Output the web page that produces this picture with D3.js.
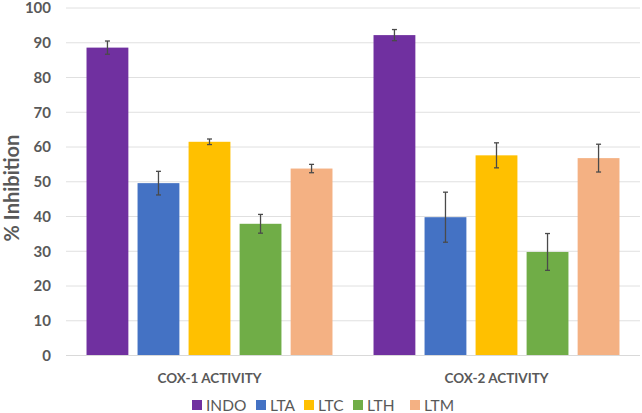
<!DOCTYPE html>
<html><head><meta charset="utf-8">
<script src="https://cdn.jsdelivr.net/npm/d3@7"></script>
<style>body{margin:0;background:#fff;}svg{display:block;font-family:Lato,"Open Sans",sans-serif;}</style>
</head><body>
<svg id="c" width="642" height="413"></svg>
<script>
const categories = ["COX-1 ACTIVITY", "COX-2 ACTIVITY"];
const seriesNames = ["INDO", "LTA", "LTC", "LTH", "LTM"];
const seriesColors = ["#7030A0", "#4472C4", "#FFC000", "#70AD47", "#F4B183"];
const indoValues = [88.6, 92.2];
const ltaValues = [49.6, 39.8];
const ltcValues = [61.5, 57.6];
const lthValues = [37.9, 29.8];
const ltmValues = [53.8, 56.8];
const indoErr = [1.9, 1.6];
const ltaErr = [3.4, 7.2];
const ltcErr = [0.8, 3.6];
const lthErr = [2.7, 5.3];
const ltmErr = [1.2, 4.0];
const yTicks = [0, 10, 20, 30, 40, 50, 60, 70, 80, 90, 100];
const yTitle = "% Inhibition";

const values = [indoValues, ltaValues, ltcValues, lthValues, ltmValues];
const errs = [indoErr, ltaErr, ltcErr, lthErr, ltmErr];

const svg = d3.select("#c");
const mLeft = 66, mRight = 640, mTop = 8, mBottom = 355.5;
const textCol = "#595959";
const ff = "Lato, 'Open Sans', sans-serif";

const y = d3.scaleLinear().domain([0, 100]).range([mBottom, mTop]);
const x0 = d3.scaleBand().domain(categories).range([mLeft, mRight]).paddingInner(0.143).paddingOuter(0.0715);
const x1 = d3.scaleBand().domain(seriesNames).range([0, x0.bandwidth()]).paddingInner(0.18).paddingOuter(0);

// gridlines
svg.append("g").selectAll("line").data(yTicks.filter(d => d > 0)).join("line")
  .attr("x1", mLeft).attr("x2", mRight)
  .attr("y1", d => y(d)).attr("y2", d => y(d))
  .attr("stroke", "#E0E0E0").attr("stroke-width", 1);

// y axis labels
const yAxis = d3.axisLeft(y).tickValues(yTicks).tickSize(0).tickPadding(0);
const ya = svg.append("g").attr("transform", `translate(${mLeft - 15},0)`).call(yAxis);
ya.select(".domain").remove();
ya.selectAll("text").attr("font-size", 15).attr("font-weight", "bold").attr("fill", textCol)
  .attr("font-family", ff);

// bars
const groups = svg.append("g").selectAll("g").data(categories).join("g")
  .attr("transform", d => `translate(${x0(d)},0)`);
groups.each(function(cat, ci) {
  const g = d3.select(this);
  seriesNames.forEach((s, si) => {
    const v = values[si][ci], e = errs[si][ci];
    const bx = x1(s), bw = x1.bandwidth();
    g.append("rect").attr("x", bx).attr("y", y(v)).attr("width", bw).attr("height", y(0) - y(v))
      .attr("fill", seriesColors[si]);
    const cx = bx + bw / 2;
    g.append("line").attr("x1", cx).attr("x2", cx).attr("y1", y(v + e)).attr("y2", y(v - e))
      .attr("stroke", "#4a4a4a").attr("stroke-width", 1.3);
    [v + e, v - e].forEach(t => {
      g.append("line").attr("x1", cx - 2.5).attr("x2", cx + 2.5).attr("y1", y(t)).attr("y2", y(t))
        .attr("stroke", "#4a4a4a").attr("stroke-width", 1.3);
    });
  });
});

// baseline
svg.append("line").attr("x1", mLeft).attr("x2", mRight).attr("y1", y(0)).attr("y2", y(0))
  .attr("stroke", "#D9D9D9").attr("stroke-width", 1);

// category labels
const xAxis = d3.axisBottom(x0).tickSize(0).tickPadding(0);
const xa = svg.append("g").attr("transform", `translate(0,${mBottom + 18})`).call(xAxis);
xa.select(".domain").remove();
xa.selectAll("text").attr("font-size", 13.5).attr("font-weight", "bold").attr("fill", textCol)
  .attr("font-family", ff);

// y title
svg.append("text").attr("transform", `translate(19,188) rotate(-90)`)
  .attr("text-anchor", "middle").attr("font-size", 20).attr("font-weight", "bold")
  .attr("fill", textCol).text(yTitle);

// legend
const legendX = [192, 256, 304, 353, 410];
const lg = svg.append("g");
seriesNames.forEach((s, i) => {
  lg.append("rect").attr("x", legendX[i]).attr("y", 400).attr("width", 10).attr("height", 10).attr("fill", seriesColors[i]);
  lg.append("text").attr("x", legendX[i] + 14).attr("y", 411).attr("font-size", 15.5)
    .attr("fill", textCol).text(s);
});
</script>
</body></html>
